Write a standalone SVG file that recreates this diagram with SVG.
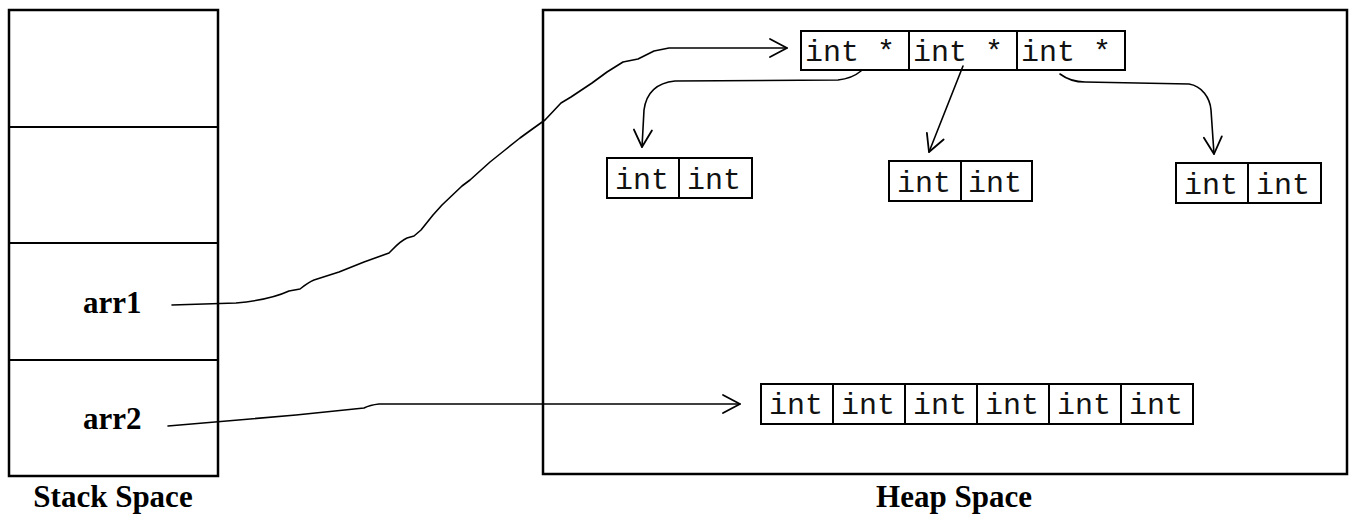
<svg xmlns="http://www.w3.org/2000/svg" width="1351" height="514" viewBox="0 0 1351 514">
<style>
.box{fill:#fff;stroke:#000;stroke-width:2.5}
.cell{fill:#fff;stroke:#000;stroke-width:2}
.div{stroke:#000;stroke-width:2}
.mono{font-family:"Liberation Mono","Courier New",monospace;font-size:30px;fill:#111}
.lbl{font-family:"Liberation Serif","Times New Roman",serif;font-weight:bold;font-size:31px;fill:#000}
.conn{fill:none;stroke:#000;stroke-width:1.6;stroke-linejoin:round;stroke-linecap:round;marker-end:url(#arr)}
</style>
<defs>
<marker id="arr" viewBox="-19 -11 22 22" refX="0" refY="0" markerWidth="22" markerHeight="22" markerUnits="userSpaceOnUse" orient="auto" overflow="visible">
<path d="M-17,-9 L0,0 L-17,9" fill="none" stroke="#000" stroke-width="1.8" stroke-linejoin="round" stroke-linecap="round"/>
</marker>
</defs>
<rect width="1351" height="514" fill="#fff"/>

<g id="stack">
<rect class="box" x="9" y="10" width="209" height="466"/>
<line class="div" x1="9" y1="127" x2="218" y2="127"/>
<line class="div" x1="9" y1="243" x2="218" y2="243"/>
<line class="div" x1="9" y1="360" x2="218" y2="360"/>
<text class="lbl" x="83" y="313">arr1</text>
<text class="lbl" x="83" y="429">arr2</text>
<text class="lbl" x="113" y="507" text-anchor="middle">Stack Space</text>
</g>

<g id="heap">
<rect class="box" x="543" y="10" width="804" height="464"/>
<text class="lbl" x="954" y="507" text-anchor="middle">Heap Space</text>
</g>

<g id="ptrArray">
<rect class="cell" x="801" y="31" width="324" height="39"/>
<line class="div" x1="909" y1="31" x2="909" y2="70"/>
<line class="div" x1="1017" y1="31" x2="1017" y2="70"/>
<text class="mono" x="805" y="61">int *</text>
<text class="mono" x="913" y="61">int *</text>
<text class="mono" x="1021" y="61">int *</text>
</g>

<g id="row1">
<rect class="cell" x="607" y="158" width="145" height="40"/>
<line class="div" x1="679" y1="158" x2="679" y2="198"/>
<text class="mono" x="615" y="189">int</text>
<text class="mono" x="687" y="189">int</text>
</g>

<g id="row2">
<rect class="cell" x="889" y="161" width="143" height="40"/>
<line class="div" x1="961" y1="161" x2="961" y2="201"/>
<text class="mono" x="897" y="192">int</text>
<text class="mono" x="968" y="192">int</text>
</g>

<g id="row3">
<rect class="cell" x="1176" y="163" width="145" height="40"/>
<line class="div" x1="1248" y1="163" x2="1248" y2="203"/>
<text class="mono" x="1184" y="194">int</text>
<text class="mono" x="1256" y="194">int</text>
</g>

<g id="flatArray">
<rect class="cell" x="761" y="384" width="432" height="40"/>
<line class="div" x1="833" y1="384" x2="833" y2="424"/>
<line class="div" x1="905" y1="384" x2="905" y2="424"/>
<line class="div" x1="977" y1="384" x2="977" y2="424"/>
<line class="div" x1="1049" y1="384" x2="1049" y2="424"/>
<line class="div" x1="1121" y1="384" x2="1121" y2="424"/>
<text class="mono" x="769" y="414">int</text>
<text class="mono" x="841" y="414">int</text>
<text class="mono" x="913" y="414">int</text>
<text class="mono" x="985" y="414">int</text>
<text class="mono" x="1057" y="414">int</text>
<text class="mono" x="1129" y="414">int</text>
</g>

<g id="connectors">
<path class="conn" d="M172,305 L236,303 C258,301 276,297 289,291 L300,289 C305,285 309,282 314,280 L339,272 L364,262 L389,253 C395,247 400,241 407,238 L414,236 L421,230 L433,215 L442,205 L462,186 L470,180 L490,162 L505,150 L520,138 L531,130 L545,120 L561,103 L571,97 L592,83 L607,72 L623,62 L638,59 L654,51 L669,48 L787,48"/>
<path class="conn" d="M168,426 L296,415 L364,408 Q370,405 379,404 L740,404"/>
<path class="conn" d="M861,71 C855,76 848,79 838,80 L675,81 C655,83 646,95 644,110 L642,147"/>
<path class="conn" d="M963,66 L929,152"/>
<path class="conn" d="M1060,74 C1068,80 1075,82 1085,82 L1189,84 C1202,86 1210,98 1211,110 L1214,154"/>
</g>
</svg>
